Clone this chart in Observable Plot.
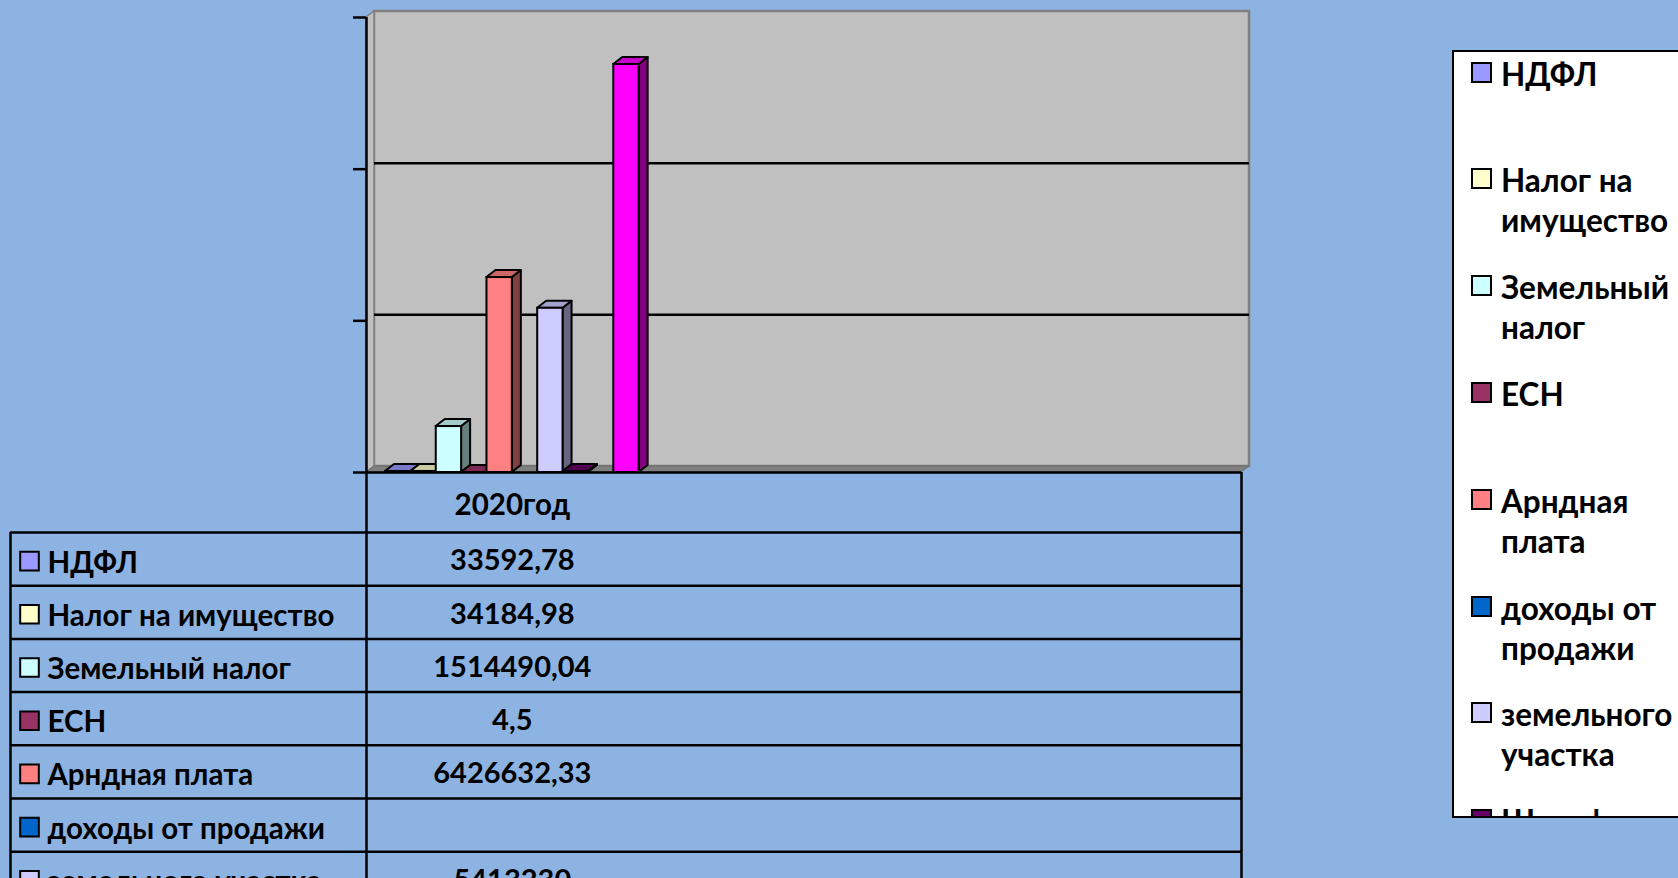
<!DOCTYPE html>
<html><head><meta charset="utf-8">
<script src="https://cdn.jsdelivr.net/npm/d3@7"></script>
<script src="https://cdn.jsdelivr.net/npm/@observablehq/plot@0.6"></script>
<style>
html,body{margin:0;padding:0;background:#8DB3E2;width:1678px;height:878px;overflow:hidden;font-family:Lato,"Open Sans",sans-serif;font-weight:bold;}
#chart{position:absolute;left:0;top:0;}
#table{position:absolute;left:0;top:472px;}
#legend{position:absolute;left:1452px;top:50px;width:300px;height:764px;background:#fff;border:2.5px solid #000;overflow:hidden;}
.item{position:absolute;left:17px;display:flex;align-items:flex-start;}
.sw{width:17px;height:17px;border:2px solid #000;margin-top:8px;margin-right:9px;flex:none}
.lbl{width:185px;font-size:31.5px;line-height:40px;color:#000;font-weight:bold}
</style></head><body>
<div id="chart"></div><div id="table"></div><div id="legend"></div>
<script>
// ---- data ----
const categories = ["2020год"];
const seriesNames = ["НДФЛ","Налог на имущество","Земельный налог","ЕСН","Арндная плата","доходы от продажи","земельного участка","Штрафы","Прочие","Итого"];
const values2020 = [33592.78, 34184.98, 1514490.04, 4.5, 6426632.33, null, 5413230, 30000, null, 13450000];
const seriesColors = ["#9999FF","#FFFFCC","#CCFFFF","#993366","#FF8080","#0066CC","#CCCCFF","#660066","#000080","#FF00FF"];
const yTicks = [0, 5e6, 10e6, 15e6];

// ---- layout ----
const X0 = 366, X1 = 1241, Y0 = 472, YT = 17;
const nCat = 3, gapSlots = 1.5, nS = seriesNames.length;
const catW = nS + gapSlots;
const xMax = nCat * catW;
const pxX = (X1 - X0) / xMax;
const yMax = yTicks[yTicks.length - 1];
const pxY = (Y0 - YT) / yMax;
const bdx = 9 / pxX, bdy = 7 / pxY;
const wdx = 8 / pxX, wdy = 6 / pxY;
const font = "Lato, 'Open Sans', sans-serif";

const shade = (c, k) => { const r = d3.rgb(c); return d3.rgb(r.r * k, r.g * k, r.b * k).formatHex(); };
const fmt = v => v == null ? "" : String(v).replace(".", ",");

const bars = seriesNames.map((name, i) => ({
  name, i, v: values2020[i], color: seriesColors[i],
  x1: gapSlots / 2 + i, x2: gapSlots / 2 + i + 1
})).filter(d => d.v != null);

const tops = bars.flatMap(d => [
  {name: d.name, c: shade(d.color, 0.8), x: d.x1, y1: d.v, y2: d.v},
  {name: d.name, c: shade(d.color, 0.8), x: d.x1 + bdx, y1: d.v, y2: d.v + bdy},
  {name: d.name, c: shade(d.color, 0.8), x: d.x2, y1: d.v, y2: d.v + bdy},
  {name: d.name, c: shade(d.color, 0.8), x: d.x2 + bdx, y1: d.v + bdy, y2: d.v + bdy}
]);
const sides = bars.flatMap(d => [
  {name: d.name, c: shade(d.color, 0.5), x: d.x2, y1: 0, y2: d.v},
  {name: d.name, c: shade(d.color, 0.5), x: d.x2 + bdx, y1: bdy, y2: d.v + bdy}
]);
const backWall = [{x1: 0, x2: xMax, y1: 0, y2: yMax}];
const leftWall = [{x: 0, y1: 0, y2: yMax}, {x: wdx, y1: wdy, y2: yMax + wdy}];
const floor = [{x: 0, y1: 0, y2: 0}, {x: wdx, y1: 0, y2: wdy}, {x: xMax, y1: 0, y2: wdy}, {x: xMax + wdx, y1: wdy, y2: wdy}];

const chart = Plot.plot({
  width: 1260, height: 480,
  marginLeft: X0, marginRight: 1260 - X1, marginTop: YT, marginBottom: 480 - Y0,
  x: {domain: [0, xMax], axis: null},
  y: {domain: [0, yMax], axis: null},
  color: {type: "identity"},
  style: {background: "transparent", overflow: "visible", fontFamily: font},
  marks: [
    Plot.rect(backWall, {x1: "x1", x2: "x2", y1: "y1", y2: "y2", dx: 8, dy: -6, fill: "#C0C0C0", stroke: "#808080", strokeWidth: 2.5}),
    Plot.areaY(leftWall, {x: "x", y1: "y1", y2: "y2", fill: "#C0C0C0", stroke: "#808080", strokeWidth: 1.5}),
    Plot.areaY(floor, {x: "x", y1: "y1", y2: "y2", fill: "#808080", stroke: "#6a6a6a", strokeWidth: 1}),
    Plot.ruleY(yTicks.slice(1, -1), {dx: 8, dy: -6, stroke: "#000", strokeWidth: 2.5}),
    Plot.areaY(sides, {x: "x", y1: "y1", y2: "y2", z: "name", fill: "c", stroke: "#000", strokeWidth: 2, strokeLinejoin: "round"}),
    Plot.areaY(tops, {x: "x", y1: "y1", y2: "y2", z: "name", fill: "c", stroke: "#000", strokeWidth: 2, strokeLinejoin: "round"}),
    Plot.rect(bars, {x1: "x1", x2: "x2", y1: 0, y2: "v", fill: "color", stroke: "#000", strokeWidth: 2}),
    Plot.ruleX([0], {y1: 0, y2: yMax, stroke: "#000", strokeWidth: 2.5}),
    Plot.ruleY(yTicks, {x1: -13 / pxX, x2: 0, stroke: "#000", strokeWidth: 2.5}),
    Plot.ruleY([0], {x1: 0, x2: xMax, stroke: "#000", strokeWidth: 2.5})
  ]
});
document.getElementById("chart").append(chart);

// ---- data table ----
const rowH = 53.2, headH = 60, tH = 406;
const xL = -(X0 - 10) / pxX;
const yHead = -headH / rowH, yBot = yHead + tH / rowH;
const tableRows = seriesNames.map((name, i) => ({name, row: i + 1, label: fmt(values2020[i]), color: seriesColors[i]}));
const table = Plot.plot({
  width: 1260, height: tH,
  x: {domain: [xL, xMax], range: [10, X1], axis: null},
  y: {domain: [yHead, yBot], range: [0, tH], axis: null},
  color: {type: "identity"},
  style: {background: "transparent", overflow: "visible", fontFamily: font},
  marks: [
    Plot.ruleY(d3.range(0, nS + 1), {x1: xL, x2: xMax, stroke: "#000", strokeWidth: 2.5}),
    Plot.ruleX([xL], {y1: 0, y2: yBot, stroke: "#000", strokeWidth: 2.5}),
    Plot.ruleX([0, xMax], {y1: yHead, y2: yBot, stroke: "#000", strokeWidth: 2.5}),
    Plot.text(categories, {x: (d, i) => catW * (i + 0.5), y: yHead / 2, dy: 3, text: d => d, fontSize: 29.5, fontWeight: "bold", fill: "#000"}),
    Plot.dot(tableRows, {x: xL, dx: 19, y: d => d.row - 0.5, dy: 2, symbol: "square", r: 10.5, fill: "color", stroke: "#000", strokeWidth: 2}),
    Plot.text(tableRows, {x: xL, dx: 37, y: d => d.row - 0.5, dy: 4, text: "name", textAnchor: "start", fontSize: 29.5, fontWeight: "bold", fill: "#000"}),
    Plot.text(tableRows, {x: catW / 2, y: d => d.row - 0.5, dy: 2, text: "label", fontSize: 29, fontWeight: "bold", fill: "#000"})
  ]
});
document.getElementById("table").append(table);

// ---- legend ----
const legend = document.getElementById("legend");
seriesNames.forEach((name, i) => {
  const it = document.createElement("div");
  it.className = "item";
  it.style.top = (1.5 + 106.8 * i) + "px";
  const sw = document.createElement("div");
  sw.className = "sw"; sw.style.background = seriesColors[i];
  const lb = document.createElement("div");
  lb.className = "lbl"; lb.textContent = name;
  it.append(sw, lb);
  legend.append(it);
});
</script>
</body></html>
